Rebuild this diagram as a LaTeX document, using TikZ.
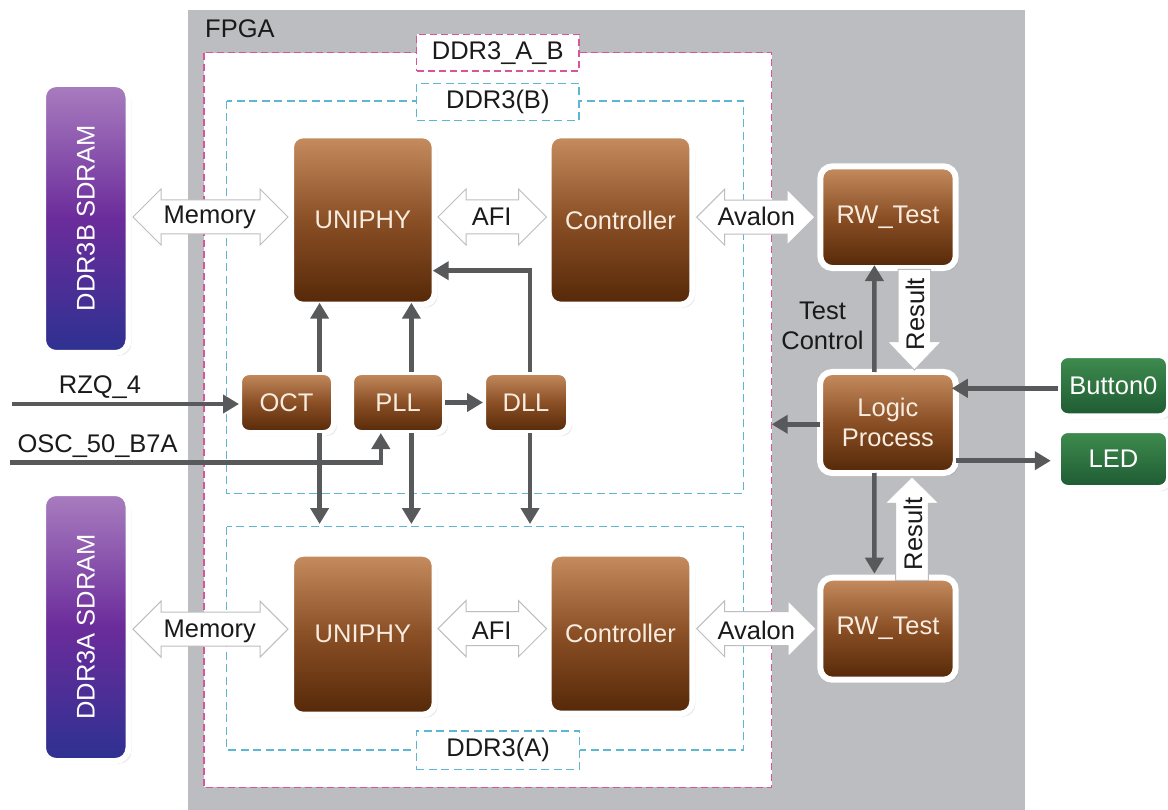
\documentclass[tikz,border=0pt]{standalone}
\usepackage{fontspec}
\usepackage{graphicx}
\setmainfont{Liberation Sans}
\usetikzlibrary{arrows.meta,calc,shadows}
\definecolor{fpgagray}{HTML}{BCBDC1}
\definecolor{pinkd}{HTML}{D9559B}
\definecolor{cyand}{HTML}{5DB7D3}
\definecolor{darr}{HTML}{58595B}
\definecolor{brtop}{HTML}{C68D60}
\definecolor{brmid}{HTML}{8A4F25}
\definecolor{brbot}{HTML}{552808}
\definecolor{grtop}{HTML}{3F8D4F}
\definecolor{grbot}{HTML}{1E5A32}
\definecolor{putop}{HTML}{A97DBF}
\definecolor{pumid}{HTML}{6B2C9B}
\definecolor{pubot}{HTML}{2D3191}
\definecolor{btext}{HTML}{F7ECDF}
\definecolor{hollowline}{HTML}{BDBDBD}
\definecolor{labeltext}{HTML}{1A1A1A}

\newcommand\hollowH[2]{%
  \draw[hollow] let \p1=(#1), \p2=(#2) in
    (\x1,\y2) -- (\x1+28pt,\y2+28pt) -- (\x1+28pt,\y2+17pt) -- (\x2-28pt,\y2+17pt)
    -- (\x2-28pt,\y2+28pt) -- (\x2,\y2) -- (\x2-28pt,\y2-28pt) -- (\x2-28pt,\y2-17pt)
    -- (\x1+28pt,\y2-17pt) -- (\x1+28pt,\y2-28pt) -- cycle;}
\newcommand\hollowV[3]{%
  \draw[hollow] let \p1=(#1), \p2=(#2) in
    (\x1-16.3pt,\y1) -- (\x1-16.3pt,\y2#3) -- (\x1-27pt,\y2#3) -- (\x1,\y2)
    -- (\x1+27pt,\y2#3) -- (\x1+16.3pt,\y2#3) -- (\x1+16.3pt,\y1) -- cycle;}

\begin{document}
\begin{tikzpicture}[x=1pt,y=-1pt,
  font=\fontsize{25.5}{30}\selectfont,
  blk/.style={rounded corners=12pt, draw=white, line width=6pt, outer sep=0pt,
    inner sep=0pt, align=center,
    drop shadow={opacity=0.18, shadow xshift=3pt, shadow yshift=-3pt}},
  brownbox/.style={blk, top color=brtop, bottom color=brbot, middle color=brmid, text=btext},
  smallbrown/.style={brownbox, rounded corners=10pt},
  greenbox/.style={blk, rounded corners=10pt, top color=grtop, bottom color=grbot, text=white},
  purplebox/.style={blk, rounded corners=13pt, top color=putop, bottom color=pubot, middle color=pumid, text=white},
  pinkdash/.style={draw=pinkd, line width=1.3pt, dash pattern=on 7pt off 4pt},
  cyandash/.style={draw=cyand, line width=1.3pt, dash pattern=on 8pt off 4.5pt},
  tagbox/.style={fill=white, inner sep=0pt, outer sep=0pt, text=labeltext},
  lbl/.style={inner sep=0pt, text=labeltext, align=center},
  hollow/.style={fill=white, draw=hollowline, line width=1pt, line join=miter},
  darrow/.style={draw=darr, line width=4.5pt, -{Triangle[length=16pt,width=18pt]}}
]
\useasboundingbox (0,0) rectangle (1168,810);

% FPGA area
\fill[fpgagray] (187.5,10) rectangle (1025,815);
\node[lbl, anchor=base west] (fpga) at (205,38) {FPGA};

% DDR3_A_B region
\path[pinkdash, fill=white] (204,52.7) rectangle (771.7,787.3);
\path[cyandash] (226.6,101) rectangle (743.3,493.3);
\path[cyandash] (226.6,526.7) rectangle (743.3,750);
\coordinate (cyA) at (226.6,524);
\coordinate (pinkR) at (771.7,424.3);

\node[tagbox, pinkdash, minimum width=162.3pt, minimum height=36.7pt] (tagAB) at (497.8,52.7) {DDR3\_A\_B};
\node[tagbox, cyandash, minimum width=162.3pt, minimum height=37.4pt] (tagB) at (497.8,102) {DDR3(B)};
\node[tagbox, cyandash, minimum width=163.4pt, minimum height=38.3pt] (tagA) at (498.1,750.2) {DDR3(A)};

% SDRAM boxes
\node[purplebox, minimum width=85.5pt, minimum height=269pt] (sdB) at (85.75,218.5) {\rotatebox{90}{DDR3B SDRAM}};
\node[purplebox, minimum width=85.5pt, minimum height=268pt] (sdA) at (85.75,627) {\rotatebox{90}{DDR3A SDRAM}};

% brown blocks
\node[brownbox, minimum width=143.7pt, minimum height=169.4pt] (uniB) at (362.85,220) {UNIPHY};
\node[brownbox, minimum width=143.6pt, minimum height=169.4pt] (ctrlB) at (620.5,220) {Controller};
\node[brownbox, minimum width=143.7pt, minimum height=161pt] (uniA) at (362.85,634.2) {UNIPHY};
\node[brownbox, minimum width=143.6pt, minimum height=160pt] (ctrlA) at (620.5,633.7) {Controller};
\node[brownbox, minimum width=135.4pt, minimum height=101.7pt] (rwB) at (888,217.2) {RW\_Test};
\node[brownbox, minimum width=135.7pt, minimum height=101pt] (logic) at (887.9,422.5) {Logic\\Process};
\node[brownbox, minimum width=135.4pt, minimum height=102pt] (rwA) at (888,628.7) {RW\_Test};
\node[smallbrown, minimum width=95pt, minimum height=61pt] (oct) at (286.5,402.5) {OCT};
\node[smallbrown, minimum width=94pt, minimum height=61pt] (pll) at (398,402.5) {PLL};
\node[smallbrown, minimum width=86pt, minimum height=61pt] (dll) at (526,402.5) {DLL};

% green blocks
\node[greenbox, minimum width=111.3pt, minimum height=61.3pt] (btn) at (1113.4,385.7) {Button0};
\node[greenbox, minimum width=111.3pt, minimum height=58pt] (led) at (1113.4,459) {LED};

% hollow double arrows
\hollowH{$(sdB.east)+(4.5,0)$}{$(uniB.west)+(-3,-3)$}
\node[lbl] (memB) at ($(sdB.east)!0.5!(uniB.west)+(0,-2)$) {Memory};
\hollowH{$(uniB.east)+(3.3,0)$}{$(ctrlB.west)+(-2.2,-3)$}
\node[lbl] (afiB) at ($(uniB.east)!0.5!(ctrlB.west)+(0,-3)$) {AFI};
\hollowH{$(ctrlB.east)+(4.4,0)$}{$(rwB.west)+(-5.3,0)$}
\node[lbl] (avB) at ($(ctrlB.east)!0.5!(rwB.west)+(0,-2)$) {Avalon};

\hollowH{$(sdA.east)+(4.5,0)$}{$(uniA.west)+(-3,-5)$}
\node[lbl] (memA) at ($(sdA.east)!0.5!(uniA.west)+(0,1)$) {Memory};
\hollowH{$(uniA.east)+(3.3,0)$}{$(ctrlA.west)+(-2.2,-5)$}
\node[lbl] (afiA) at ($(uniA.east)!0.5!(ctrlA.west)+(0,-3)$) {AFI};
\hollowH{$(ctrlA.east)+(4.4,0)$}{$(rwA.west)+(-4.3,0)$}
\node[lbl] (avA) at ($(ctrlA.east)!0.5!(rwA.west)+(0,-1)$) {Avalon};

% Result arrows
\hollowV{$(rwB.south)+(26.4,1.3)$}{$(logic.north)+(26.4,-2)$}{+28.3pt}
\node[lbl, rotate=90] (resB) at ($(rwB.south)+(27,46)$) {Result};
\hollowV{$(rwA.north)+(24,2.7)$}{$(logic.south)+(24,3.7)$}{-26.6pt}
\node[lbl, rotate=90] (resA) at ($(rwA.north)+(25,-43.7)$) {Result};

% connector anchor points
\coordinate (rzq) at (11.5,404);
\coordinate (osc) at (9.6,462.7);
\coordinate (pllin) at ($(pll.south)+(-17.2,0)$);
\coordinate (octN) at ($(oct.north)+(33.1,0)$);
\coordinate (octS) at ($(oct.south)+(33.1,0)$);
\coordinate (pllN) at ($(pll.north)+(13.4,0)$);
\coordinate (pllS) at ($(pll.south)+(13.4,0)$);
\coordinate (dllN) at ($(dll.north)+(4,0)$);
\coordinate (dllS) at ($(dll.south)+(4,0)$);
\coordinate (uniBin) at ($(uniB.east)+(0,50.7)$);
\coordinate (lgN) at ($(logic.north)+(-13.6,0)$);
\coordinate (lgS) at ($(logic.south)+(-13.6,0)$);
\coordinate (rwBS) at ($(rwB.south)+(-13.6,0)$);
\coordinate (rwAN) at ($(rwA.north)+(-13.6,0)$);
\coordinate (btnW) at ($(btn.west)+(0,2.6)$);
\coordinate (lgW) at ($(logic.west)+(0,1.8)$);
\coordinate (ledW) at ($(led.west)+(0,1.7)$);

% dark connectors
\node[lbl, anchor=base] (rzqlbl) at (100,393) {RZQ\_4};
\node[lbl, anchor=base] (osclbl) at (97.6,452) {OSC\_50\_B7A};
\draw[darrow] (rzq) -- (rzq -| oct.west);
\draw[darrow] (osc) -| (pllin);
\draw[darrow] (pll.east) -- (dll.west);

\draw[darrow, shorten >=-2pt] (octN) -- (octN |- uniB.south);
\draw[darrow] (octS) -- (octS |- cyA);
\draw[darrow, shorten >=-2pt] (pllN) -- (pllN |- uniB.south);
\draw[darrow] (pllS) -- (pllS |- cyA);
\draw[darrow, shorten >=-2pt] (dllN) |- (uniBin);
\draw[darrow] (dllS) -- (dllS |- cyA);

\draw[darrow, shorten >=-3pt] (lgN) -- (rwBS);
\node[lbl] (tc) at (822.5,326) {Test\\Control};
\draw[darrow, shorten >=4pt] (lgS) -- (rwAN);
\draw[darrow, shorten >=-4pt] (btnW) -- (btnW -| logic.east);
\draw[darrow] (lgW) -- (pinkR);
\draw[darrow, shorten >=7pt] (ledW -| logic.east) -- (ledW);
\end{tikzpicture}
\end{document}
